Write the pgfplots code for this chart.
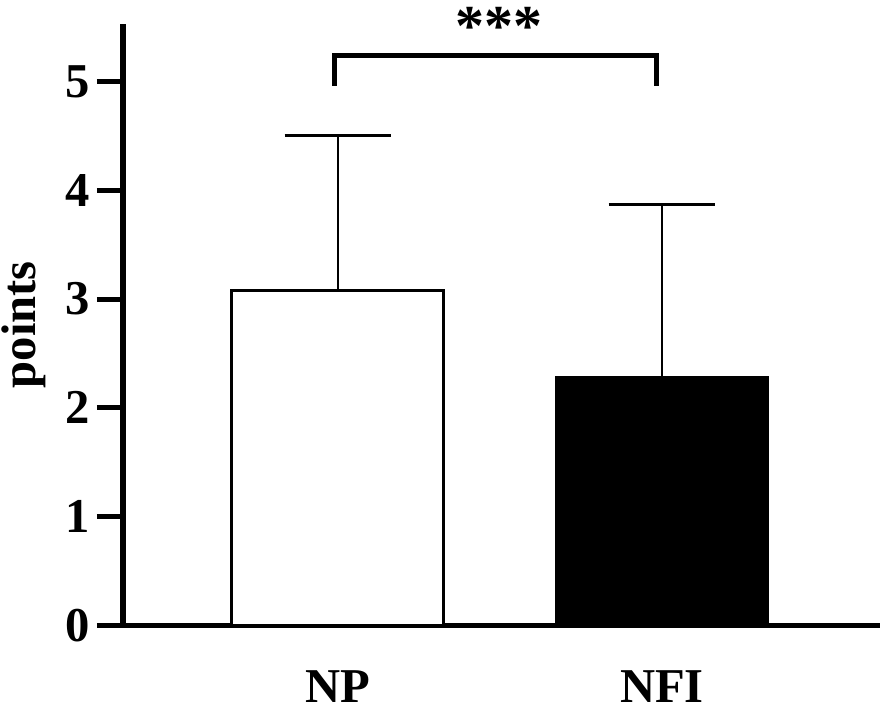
\documentclass[border=0pt]{standalone}
\usepackage{fontspec}
\setmainfont{Liberation Serif}
\usepackage{pgfplots}
\pgfplotsset{compat=1.18}
\begin{document}
\begin{tikzpicture}
\begin{axis}[
 name=a,
 scale only axis, width=568.5pt, height=451.5pt,
 xmin=0.3364, xmax=2.6728, ymin=0, ymax=5.53,
 axis x line=bottom, axis y line=left,
 axis line style={line width=4pt, -},
 ytick={0,1,2,3,4,5}, xtick={1,2}, xticklabels={NP,NFI},
 x tick style={draw=none},
 y tick style={line width=3.75pt, black},
 tick align=outside, major tick length=19.5pt,
 ticklabel style={font=\fontsize{36.5}{44}\selectfont\bfseries},
 /pgf/number format/assume math mode=true,
 yticklabel style={anchor=east, inner sep=0pt, xshift=-5.25pt},
 xticklabel style={anchor=north, inner sep=0pt, yshift=-14.25pt},
 ylabel={points},
 ylabel style={font=\fontsize{36.5}{44}\selectfont\bfseries, at={(axis description cs:-0.1148,0.5)}, anchor=base, inner sep=0pt},
 clip=false,
]
\addplot[ybar, bar width=0.654, bar shift=0pt, fill=white, draw=black, line width=2.25pt,
  error bars/.cd, y dir=plus, y explicit,
  error bar style={line width=2pt, black},
  error mark options={rotate=90, mark size=40.1pt, line width=2pt, black}]
  coordinates {(1,3.08) +- (0,1.425)};
\addplot[ybar, bar width=0.654, bar shift=0pt, fill=black, draw=black, line width=2.25pt,
  error bars/.cd, y dir=plus, y explicit,
  error bar style={line width=2pt, black},
  error mark options={rotate=90, mark size=40.1pt, line width=2pt, black}]
  coordinates {(2,2.28) +- (0,1.59)};
\addplot[line width=3.75pt, black, mark=none] coordinates {(0.988,4.96) (0.988,5.243) (1.983,5.243) (1.983,4.96)};
\node[anchor=north, inner sep=0pt, font=\fontsize{43.5}{50}\selectfont\bfseries] at (axis cs:1.498,5.69) {***};
\end{axis}
\pgfresetboundingbox
\path[use as bounding box] ([shift={(-92.25pt,-61.5pt)}]a.south west) rectangle ([shift={(2.25pt,18pt)}]a.north east);
\end{tikzpicture}
\end{document}
